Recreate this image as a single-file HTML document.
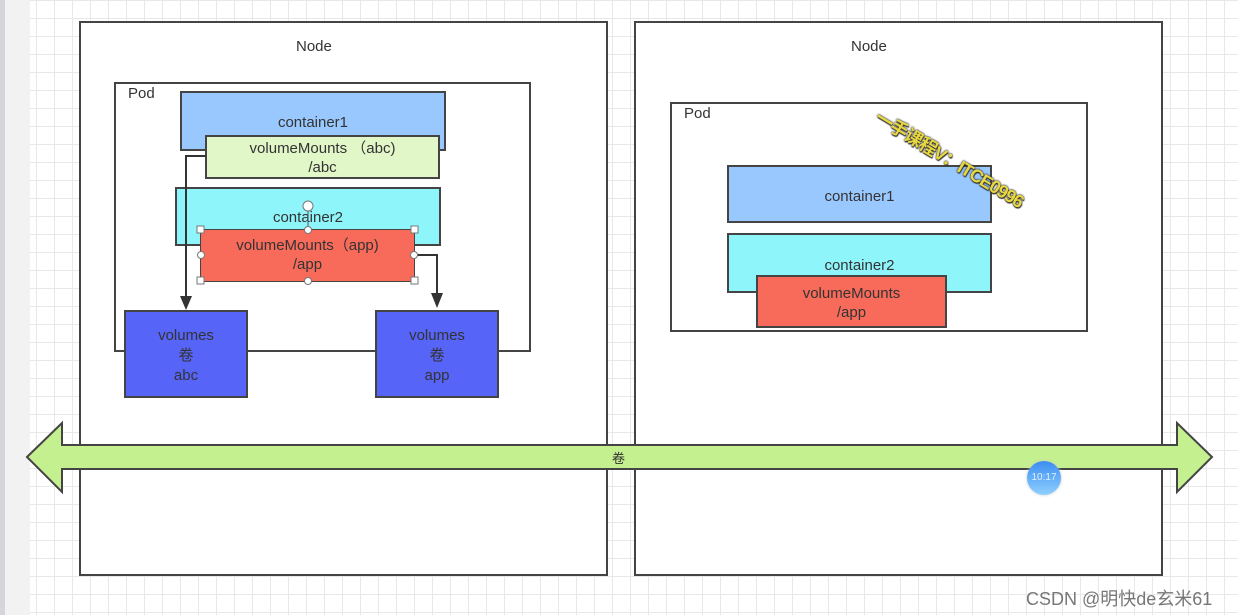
<!DOCTYPE html>
<html><head><meta charset="utf-8"><style>
body{margin:0;width:1238px;height:615px;overflow:hidden;position:relative;font-family:"Liberation Sans","Noto Sans CJK SC",sans-serif;
background-color:#fff;background-image:linear-gradient(#e8e8e8 1px,transparent 1px),linear-gradient(90deg,#e8e8e8 1px,transparent 1px);background-size:18px 18px;}
.b{position:absolute;box-sizing:border-box;border:2px solid #444;text-align:center;color:#333;font-size:15px;}
.t{position:absolute;font-size:15px;color:#333;}
</style></head><body>
<div style="position:absolute;left:0;top:0;width:5px;height:615px;background:#d4d6da"></div>
<div style="position:absolute;left:5px;top:0;width:25px;height:615px;background:#f2f2f2"></div>

<div class="b" style="left:79px;top:21px;width:529px;height:555px;background:#fff"></div>
<div class="b" style="left:634px;top:21px;width:529px;height:555px;background:#fff"></div>
<div class="t" style="left:296px;top:38px">Node</div>
<div class="t" style="left:851px;top:38px">Node</div>

<!-- left pod -->
<div class="b" style="left:114px;top:82px;width:417px;height:270px"></div>
<div class="t" style="left:128px;top:85px">Pod</div>
<div class="b" style="left:180px;top:91px;width:266px;height:60px;background:#99c8ff;padding-top:21px">container1</div>
<div class="b" style="left:205px;top:135px;width:235px;height:44px;background:#e2f7c8;line-height:19px;padding-top:2px">volumeMounts （abc)<br>/abc</div>
<div class="b" style="left:175px;top:187px;width:266px;height:59px;background:#8ef6fb;padding-top:20px">container2</div>
<div class="b" style="left:200px;top:229px;width:215px;height:53px;background:#f86b5a;line-height:19px;padding-top:6px;border-width:1px">volumeMounts（app)<br>/app</div>
<div class="b" style="left:124px;top:310px;width:124px;height:88px;background:#5664f7;line-height:20px;padding-top:14px">volumes<br>卷<br>abc</div>
<div class="b" style="left:375px;top:310px;width:124px;height:88px;background:#5664f7;line-height:20px;padding-top:14px">volumes<br>卷<br>app</div>

<svg style="position:absolute;left:0;top:0" width="1238" height="615">
<polyline points="206,156 186,156 186,300" fill="none" stroke="#333" stroke-width="2"/>
<polygon points="180,296 192,296 186,310" fill="#333"/>
<polyline points="415,255 437,255 437,298" fill="none" stroke="#333" stroke-width="2"/>
<polygon points="431,293 443,293 437,308" fill="#333"/>
<g fill="#fff" stroke="#777" stroke-width="1">
<rect x="197" y="226" width="7" height="7"/><rect x="411" y="226" width="7" height="7"/>
<rect x="197" y="277" width="7" height="7"/><rect x="411" y="277" width="7" height="7"/>
<circle cx="308" cy="230" r="3.5"/><circle cx="308" cy="281" r="3.5"/>
<circle cx="201" cy="255" r="3.5"/><circle cx="414" cy="255" r="3.5"/>
<circle cx="308" cy="206" r="5"/>
</g>
<line x1="308" y1="211" x2="308" y2="226" stroke="#555" stroke-width="1"/>
<polygon points="27,457 62,423 62,445 1177,445 1177,423 1212,457 1177,492 1177,469 62,469 62,492" fill="#c5f08f" stroke="#444" stroke-width="2"/>
</svg>
<div class="t" style="left:612px;top:448px;font-size:13px">卷</div>

<!-- right pod -->
<div class="b" style="left:670px;top:102px;width:418px;height:230px"></div>
<div class="t" style="left:684px;top:105px">Pod</div>
<div class="b" style="left:727px;top:165px;width:265px;height:58px;background:#99c8ff;padding-top:21px">container1</div>
<div class="b" style="left:727px;top:233px;width:265px;height:60px;background:#8ef6fb;padding-top:22px">container2</div>
<div class="b" style="left:756px;top:275px;width:191px;height:53px;background:#f86b5a;line-height:19px;padding-top:7px">volumeMounts<br>/app</div>

<div style="position:absolute;left:884px;top:104px;transform:rotate(31deg);transform-origin:left top;font-size:18px;font-weight:bold;color:#e8d840;text-shadow:0 0 2px #333,0 0 2px #333,1px 1px 1px #333;white-space:nowrap;letter-spacing:-1px">一手课程V：ITCE0996</div>

<div style="position:absolute;left:1027px;top:461px;width:34px;height:34px;border-radius:50%;background:linear-gradient(#3d8df0,#8fd0ff);color:#e0f0ff;font-size:10px;line-height:34px;text-align:center;box-shadow:0 0 3px #ccc">10:17</div>
<div class="t" style="left:1026px;top:585px;font-size:18px;color:#777">CSDN @明快de玄米61</div>
</body></html>
